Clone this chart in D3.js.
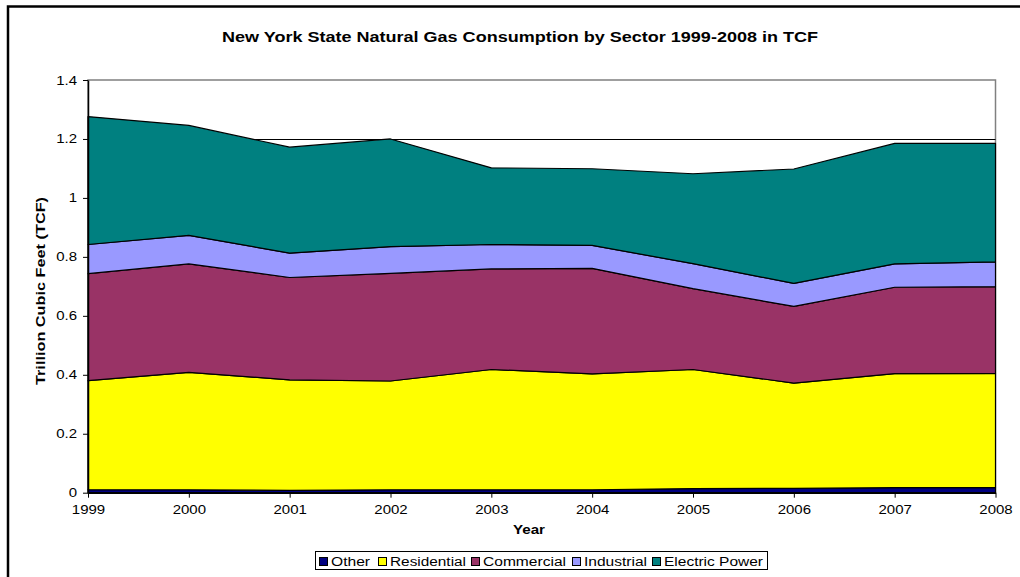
<!DOCTYPE html>
<html>
<head>
<meta charset="utf-8">
<script src="https://cdn.jsdelivr.net/npm/d3@7"></script>
<style>
  body { margin: 0; background: #fff; }
  svg { display: block; font-family: "Liberation Sans", Arial, sans-serif; }
</style>
</head>
<body>
<div id="chart"></div>
<script>
// values, TCF
var years = [1999, 2000, 2001, 2002, 2003, 2004, 2005, 2006, 2007, 2008];
var other = [0.010, 0.010, 0.008, 0.010, 0.010, 0.010, 0.014, 0.015, 0.017, 0.017];
var residential = [0.370, 0.398, 0.375, 0.369, 0.408, 0.393, 0.404, 0.357, 0.387, 0.388];
var commercial = [0.363, 0.368, 0.347, 0.365, 0.341, 0.358, 0.274, 0.260, 0.293, 0.294];
var industrial = [0.099, 0.097, 0.083, 0.091, 0.083, 0.078, 0.085, 0.078, 0.079, 0.084];
var electric = [0.434, 0.373, 0.359, 0.365, 0.260, 0.260, 0.305, 0.388, 0.409, 0.402];
var seriesNames = ['Other', 'Residential', 'Commercial', 'Industrial', 'Electric Power'];
var seriesColors = ['#000080', '#ffff00', '#993366', '#9999ff', '#008080'];
var yTicks = [0, 0.2, 0.4, 0.6, 0.8, 1, 1.2, 1.4];

var W = 1020, H = 577;
var m = { left: 88, right: 995.5, top: 80, bottom: 492.7 };
var sx = 1.2; // the original picture is stretched sideways

var rows = years.map(function(y, i) {
	return { year: y, Other: other[i], Residential: residential[i], Commercial: commercial[i],
		Industrial: industrial[i], 'Electric Power': electric[i] };
});

var x = d3.scaleLinear().domain([1999, 2008]).range([m.left, m.right]);
var y = d3.scaleLinear().domain([0, 1.4]).range([m.bottom, m.top]);

var svg = d3.select('#chart').append('svg')
	.attr('width', W)
	.attr('height', H);

// outer frame (top + left only visible)
svg.append('path')
	.attr('d', 'M8,' + H + 'V6.5H' + W)
	.attr('fill', 'none')
	.attr('stroke', '#000')
	.attr('stroke-width', 2.5);

// title
svg.append('text')
	.attr('x', 520).attr('y', 42)
	.attr('text-anchor', 'middle')
	.attr('font-size', 14).attr('font-weight', 'bold')
	.attr('textLength', 596).attr('lengthAdjust', 'spacingAndGlyphs')
	.text('New York State Natural Gas Consumption by Sector 1999-2008 in TCF');

// plot border
svg.append('rect')
	.attr('x', m.left).attr('y', m.top)
	.attr('width', m.right - m.left).attr('height', m.bottom - m.top)
	.attr('fill', '#fff')
	.attr('stroke', '#808080').attr('stroke-width', 1.5);

// gridlines
svg.append('g').selectAll('line')
	.data(yTicks.slice(1, -1))
	.enter().append('line')
	.attr('x1', m.left).attr('x2', m.right)
	.attr('y1', function(d) { return Math.round(y(d)) + 0.5; })
	.attr('y2', function(d) { return Math.round(y(d)) + 0.5; })
	.attr('stroke', '#000').attr('stroke-width', 1);

var stack = d3.stack().keys(seriesNames);
var layers = stack(rows);

var area = d3.area()
	.x(function(d) { return x(d.data.year); })
	.y0(function(d) { return y(d[0]); })
	.y1(function(d) { return y(d[1]); });

svg.append('g').selectAll('path')
	.data(layers)
	.enter().append('path')
	.attr('d', area)
	.attr('fill', function(d, i) { return seriesColors[i]; })
	.attr('stroke', '#000')
	.attr('stroke-width', 1.2)
	.attr('stroke-linejoin', 'round');

// axes
var yAxis = d3.axisLeft(y)
	.tickValues(yTicks)
	.tickFormat(function(d) { return d3.format('')(+d.toFixed(1)); })
	.tickSize(5).tickSizeOuter(0).tickPadding(6);
var gy = svg.append('g')
	.attr('transform', 'translate(' + m.left + ',0)')
	.call(yAxis);

var xAxis = d3.axisBottom(x)
	.tickValues(years)
	.tickFormat(d3.format('d'))
	.tickSize(5).tickSizeOuter(0).tickPadding(7);
var gx = svg.append('g')
	.attr('transform', 'translate(0,' + m.bottom + ')')
	.call(xAxis);

[gx, gy].forEach(function(g) {
	g.selectAll('.domain').attr('stroke', '#000').attr('stroke-width', 1.5);
	g.selectAll('.tick line').attr('stroke', '#000');
	g.selectAll('text').attr('font-size', 12.5).attr('fill', '#000')
		.attr('font-family', '"Liberation Sans", Arial, sans-serif')
		.attr('transform', 'scale(' + sx + ',1)');
});
gy.selectAll('text').attr('x', -11 / sx);

// axis titles
svg.append('text')
	.attr('x', 529).attr('y', 534)
	.attr('text-anchor', 'middle')
	.attr('font-size', 12.5).attr('font-weight', 'bold')
	.attr('textLength', 32).attr('lengthAdjust', 'spacingAndGlyphs')
	.text('Year');

svg.append('text')
	.attr('transform', 'translate(45,291) rotate(-90)')
	.attr('text-anchor', 'middle')
	.attr('font-size', 13).attr('font-weight', 'bold')
	.attr('textLength', 188).attr('lengthAdjust', 'spacingAndGlyphs')
	.text('Trillion Cubic Feet (TCF)');

// legend
var legend = svg.append('g');
legend.append('rect')
	.attr('x', 315.5).attr('y', 551.5)
	.attr('width', 452).attr('height', 18)
	.attr('fill', '#fff').attr('stroke', '#000').attr('stroke-width', 1);

var lx = [319, 378, 471, 572, 652];
var lw = [39, 76, 83, 63, 99];
var items = legend.selectAll('g.item')
	.data(seriesNames)
	.enter().append('g')
	.attr('transform', function(d, i) { return 'translate(' + lx[i] + ',555)'; });
items.append('rect')
	.attr('x', 0.5).attr('y', 2.5)
	.attr('width', 8).attr('height', 8)
	.attr('fill', function(d, i) { return seriesColors[i]; })
	.attr('stroke', '#000').attr('stroke-width', 1);
items.append('text')
	.attr('x', 12).attr('y', 11)
	.attr('font-size', 12.5)
	.attr('textLength', function(d, i) { return lw[i]; })
	.attr('lengthAdjust', 'spacingAndGlyphs')
	.text(function(d) { return d; });
</script>
</body>
</html>
